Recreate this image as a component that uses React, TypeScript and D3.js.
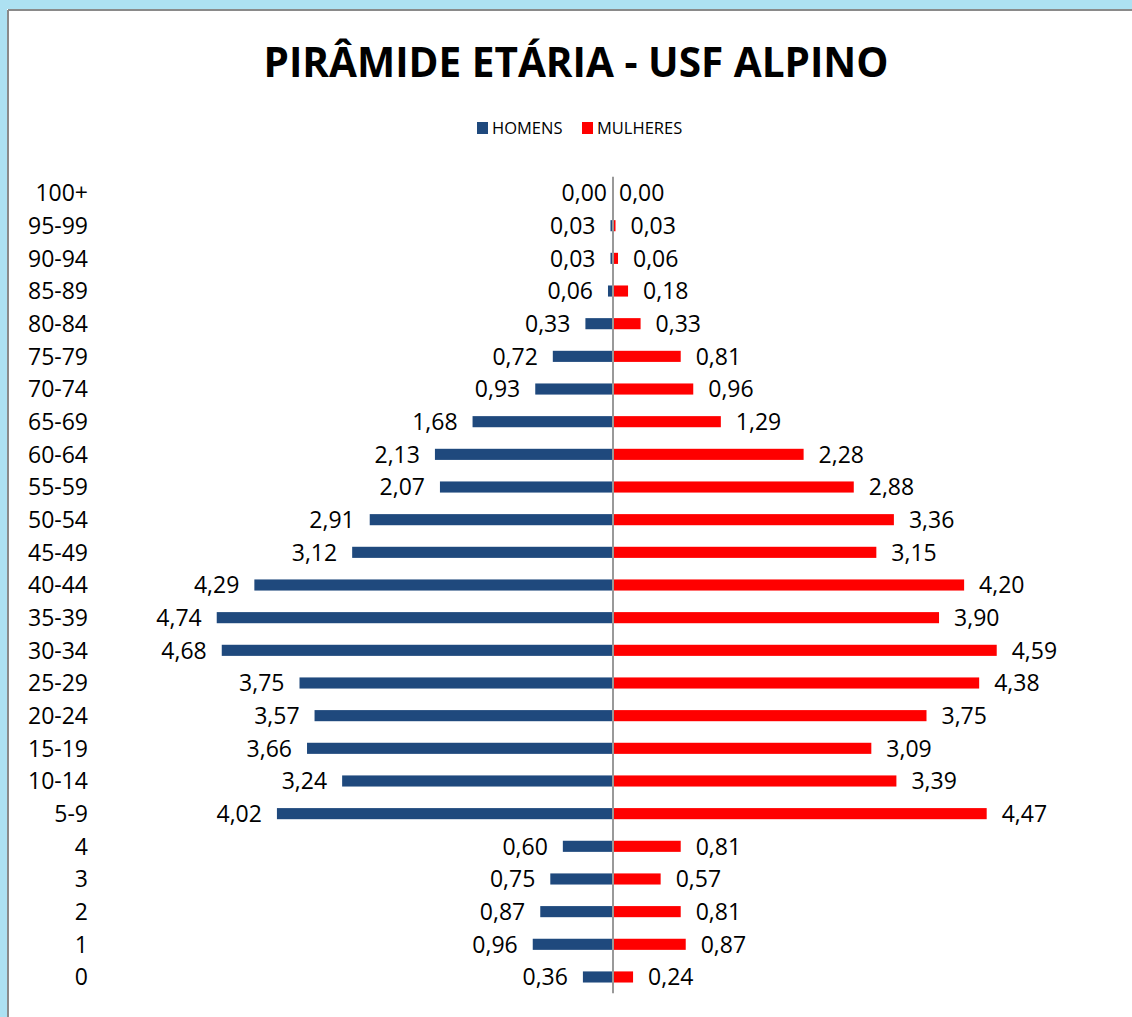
import { useEffect } from "react";
import * as d3 from "d3";

const ageGroups = [
  "100+", "95-99", "90-94", "85-89", "80-84", "75-79", "70-74", "65-69",
  "60-64", "55-59", "50-54", "45-49", "40-44", "35-39", "30-34", "25-29",
  "20-24", "15-19", "10-14", "5-9", "4", "3", "2", "1", "0",
];

const homens = [
  0.0, 0.03, 0.03, 0.06, 0.33, 0.72, 0.93, 1.68, 2.13, 2.07, 2.91, 3.12, 4.29,
  4.74, 4.68, 3.75, 3.57, 3.66, 3.24, 4.02, 0.6, 0.75, 0.87, 0.96, 0.36,
];

const mulheres = [
  0.0, 0.03, 0.06, 0.18, 0.33, 0.81, 0.96, 1.29, 2.28, 2.88, 3.36, 3.15, 4.2,
  3.9, 4.59, 4.38, 3.75, 3.09, 3.39, 4.47, 0.81, 0.57, 0.81, 0.87, 0.24,
];

const seriesNames = ["HOMENS", "MULHERES"];
const seriesColors = ["#1f497d", "#ff0000"];

const fmt = (v: number) => v.toFixed(2).replace(".", ",");

const App = () => {
  useEffect(() => {
    document.body.style.margin = "0";
  }, []);

  const width = 1132;
  const height = 1017;
  const font = "'Open Sans', sans-serif";

  const x = d3.scaleLinear().domain([-5, 5]).range([195, 1031]);
  const y = d3
    .scaleBand()
    .domain(ageGroups)
    .range([176.7, 993.3])
    .paddingInner(0.66)
    .paddingOuter(0.33);

  const cx = x(0);
  const gap = (v: number) => (v > 0 ? 15 : 6);

  return (
    <svg width={width} height={height} style={{ display: "block" }}>
      <rect x={0} y={0} width={width} height={height} fill="#ade1f2" />
      <rect x={7} y={9} width={width} height={height} fill="#ffffff" />
      <line x1={8} y1={10} x2={width} y2={10} stroke="#8a8a8a" strokeWidth={2} />
      <line x1={8} y1={10} x2={8} y2={height} stroke="#8a8a8a" strokeWidth={2} />

      <text
        x={576}
        y={77}
        textAnchor="middle"
        fontFamily={font}
        fontWeight="bold"
        fontSize={40.5}
        fill="#000"
      >
        PIRÂMIDE ETÁRIA - USF ALPINO
      </text>

      {/* legenda */}
      <g fontFamily={font} fontSize={16.5} fill="#000">
        <rect x={477} y={122} width={11} height={12} fill={seriesColors[0]} />
        <text x={492} y={134}>{seriesNames[0]}</text>
        <rect x={582} y={122} width={11} height={12} fill={seriesColors[1]} />
        <text x={597} y={134}>{seriesNames[1]}</text>
      </g>

      <g fontFamily={font} fontSize={23} fill="#000">
        {ageGroups.map((g, i) => {
          const yc = (y(g) ?? 0) + y.bandwidth() / 2;
          const hx = x(-homens[i]);
          const mx = x(mulheres[i]);
          return (
            <g key={g}>
              <text x={88} y={yc} dy="0.36em" textAnchor="end">
                {g}
              </text>
              <rect
                x={hx}
                y={y(g)}
                width={cx - hx}
                height={y.bandwidth()}
                fill={seriesColors[0]}
              />
              <rect
                x={cx}
                y={y(g)}
                width={mx - cx}
                height={y.bandwidth()}
                fill={seriesColors[1]}
              />
              <text x={hx - gap(homens[i])} y={yc} dy="0.36em" textAnchor="end">
                {fmt(homens[i])}
              </text>
              <text x={mx + gap(mulheres[i])} y={yc} dy="0.36em">
                {fmt(mulheres[i])}
              </text>
            </g>
          );
        })}
      </g>

      <line
        x1={cx}
        x2={cx}
        y1={y.range()[0]}
        y2={y.range()[1]}
        stroke="#999999"
        strokeWidth={2}
      />
    </svg>
  );
};

export default App;
